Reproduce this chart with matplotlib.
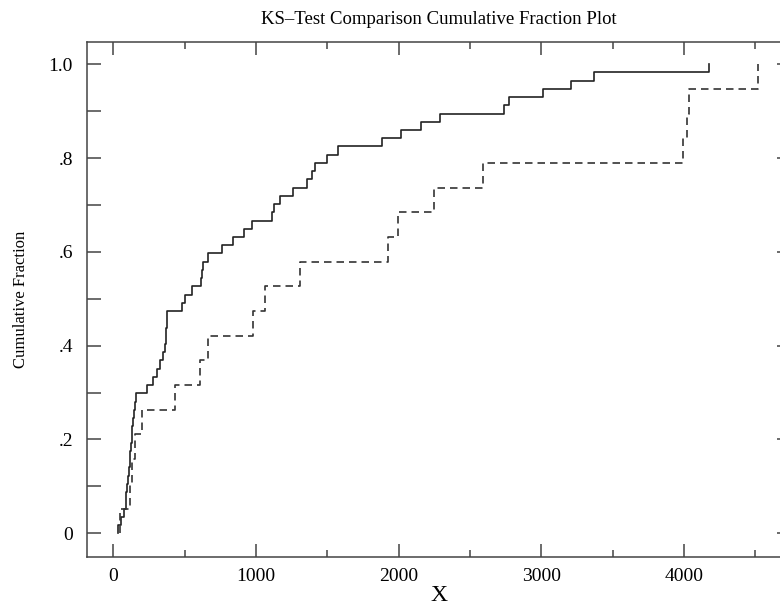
import numpy as np
import matplotlib
matplotlib.use("Agg")
import matplotlib.pyplot as plt
from matplotlib.ticker import MultipleLocator, FixedLocator, FixedFormatter

# sample values
sample_1 = [35, 51, 77, 86, 86, 93, 100, 108, 115, 118, 122, 128, 130, 140,
            145, 152, 159, 234, 276, 308, 327, 346, 362, 366, 370, 374, 378,
            479, 502, 549, 616, 620, 625, 661, 764, 841, 916, 970, 1110, 1129,
            1168, 1262, 1355, 1395, 1414, 1495, 1577, 1881, 2014, 2154, 2290,
            2738, 2770, 3014, 3206, 3367, 4176]
sample_2 = [47, 115, 130, 150, 203, 435, 607, 666, 981, 1063, 1308, 1928, 1993,
            2248, 2589, 3990, 4020, 4035, 4516]

ytick_vals = [0, 0.2, 0.4, 0.6, 0.8, 1.0]
ytick_labels = ["0", ".2", ".4", ".6", ".8", "1.0"]
xtick_vals = [0, 1000, 2000, 3000, 4000]

plt.rcParams["font.family"] = ["Liberation Serif", "DejaVu Serif"]

fig = plt.figure(figsize=(7.8, 6.06), dpi=100)
ax = fig.add_axes([0.1115, 0.0814, 0.9026, 0.8498])


def ecdf(values):
    xs = np.sort(np.asarray(values, dtype=float))
    ys = np.arange(1, len(xs) + 1) / len(xs)
    return np.concatenate([[xs[0]], xs]), np.concatenate([[0.0], ys])


x1, y1 = ecdf(sample_1)
x2, y2 = ecdf(sample_2)
ax.step(x1, y1, where="post", color="#222222", lw=1.2)
ax.step(x2, y2, where="post", color="#333333", lw=1.2, linestyle=(0, (4.5, 3)))

ax.set_xlim(-185, 4750)
ax.set_ylim(-0.05, 1.048)

edge = "#444444"
for s in ax.spines.values():
    s.set_color(edge)
    s.set_linewidth(1.1)

ax.xaxis.set_major_locator(FixedLocator(xtick_vals))
ax.xaxis.set_minor_locator(MultipleLocator(500))
ax.yaxis.set_major_locator(FixedLocator(ytick_vals))
ax.yaxis.set_major_formatter(FixedFormatter(ytick_labels))
ax.yaxis.set_minor_locator(MultipleLocator(0.1))

ax.tick_params(axis="x", which="major", direction="in", top=True, length=9.5,
               width=1.1, color=edge, labelsize=14, pad=8)
ax.tick_params(axis="x", which="minor", direction="in", top=True, length=5,
               width=1.1, color=edge)
ax.tick_params(axis="y", which="both", direction="in", right=False, length=10,
               width=1.1, color=edge, labelsize=14, pad=10)

# right-hand ticks: long at .2, short at .1
ax_r = ax.twinx()
ax_r.set_ylim(ax.get_ylim())
ax_r.yaxis.set_major_locator(FixedLocator(ytick_vals))
ax_r.yaxis.set_minor_locator(MultipleLocator(0.1))
ax_r.tick_params(axis="y", which="major", direction="in", length=10, width=1.1,
                 color=edge, labelright=False)
ax_r.tick_params(axis="y", which="minor", direction="in", length=5, width=1.1,
                 color=edge)
for s in ax_r.spines.values():
    s.set_visible(False)

ax.set_title("KS\u2013Test Comparison Cumulative Fraction Plot", fontsize=13.5, pad=13)
ax.set_xlabel("X", fontsize=17, labelpad=0)
ax.set_ylabel("Cumulative Fraction", fontsize=12, labelpad=14)

fig.savefig("out.png", dpi=100)
